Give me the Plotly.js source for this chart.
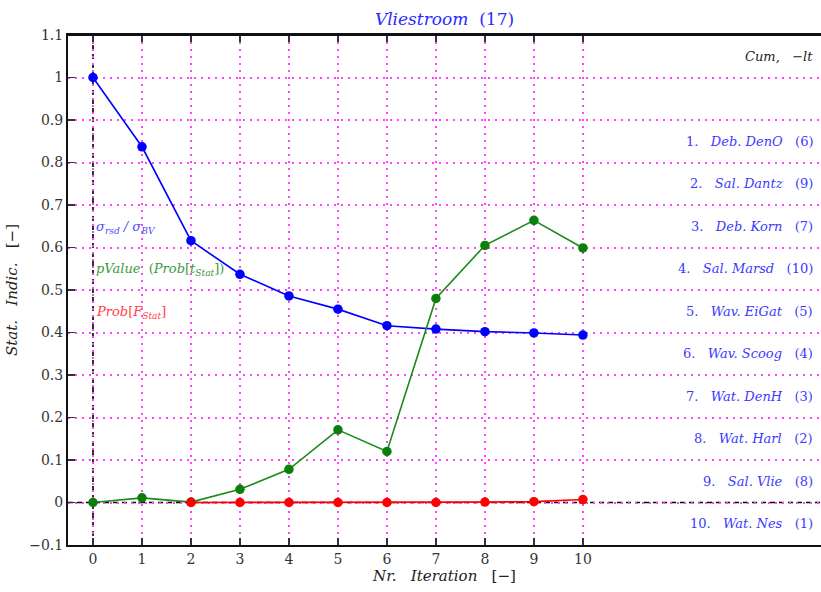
<!DOCTYPE html>
<html>
<head>
<meta charset="utf-8">
<script src="https://cdn.plot.ly/plotly-3.0.1.min.js"></script>
<style>html,body{margin:0;padding:0;background:#fff;overflow:hidden}</style>
</head>
<body>
<div id="chart" style="width:821px;height:592px"></div>
<script>
// Data
const iterations = [0, 1, 2, 3, 4, 5, 6, 7, 8, 9, 10];
const sigmaRatio = [1.0, 0.837, 0.616, 0.537, 0.486, 0.455, 0.416, 0.408, 0.402, 0.399, 0.394];
const pValue = [0.0, 0.011, 0.001, 0.031, 0.078, 0.171, 0.120, 0.480, 0.605, 0.664, 0.599];
const probFIter = [2, 3, 4, 5, 6, 7, 8, 9, 10];
const probF = [0.0, 0.0, 0.0, 0.0, 0.0, 0.0, 0.001, 0.002, 0.007];
const yTickVals = [-0.1, 0, 0.1, 0.2, 0.3, 0.4, 0.5, 0.6, 0.7, 0.8, 0.9, 1.0, 1.1];
const yTickText = ['\u22120.1', '0', '0.1', '0.2', '0.3', '0.4', '0.5', '0.6', '0.7', '0.8', '0.9', '1', '1.1'];
const stationNames = ['Deb. DenO', 'Sal. Dantz', 'Deb. Korn', 'Sal. Marsd', 'Wav. EiGat', 'Wav. Scoog', 'Wat. DenH', 'Wat. Harl', 'Sal. Vlie', 'Wat. Nes'];
const stationCounts = [6, 9, 7, 10, 5, 4, 3, 2, 8, 1];
const stationY = [0.85, 0.75, 0.65, 0.55, 0.45, 0.35, 0.25, 0.15, 0.05, -0.05];

const serif = '"DejaVu Serif", "Liberation Serif", serif';

const traces = [
  {x: iterations, y: sigmaRatio, mode: 'lines+markers', line: {color: '#0000ff', width: 1.6},
   marker: {color: '#0000ff', size: 9.5}, showlegend: false, cliponaxis: false},
  {x: iterations, y: pValue, mode: 'lines+markers', line: {color: '#1a8a1a', width: 1.6},
   marker: {color: '#0a800a', size: 9.5}, showlegend: false, cliponaxis: false},
  {x: probFIter, y: probF, mode: 'lines+markers', line: {color: '#ff0000', width: 1.6},
   marker: {color: '#ff0000', size: 9.5}, showlegend: false, cliponaxis: false}
];

const annotations = [
  {xref: 'x', yref: 'y', x: 0.03, y: 0.648, xanchor: 'left', yanchor: 'middle', showarrow: false,
   text: '<i>σ<sub>rsd</sub> / σ<sub>BV</sub></i>', font: {family: serif, size: 13, color: '#4a4aff'}},
  {xref: 'x', yref: 'y', x: 0.03, y: 0.548, xanchor: 'left', yanchor: 'middle', showarrow: false,
   text: '<i>pValue</i>  (<i>Prob</i>[<i>t<sub>Stat</sub></i>])', font: {family: serif, size: 13, color: '#3a9a3a'}},
  {xref: 'x', yref: 'y', x: 0.03, y: 0.448, xanchor: 'left', yanchor: 'middle', showarrow: false,
   text: '<i>Prob</i>[<i>F<sub>Stat</sub></i>]', font: {family: serif, size: 13, color: '#ff4040'}},
  {xref: 'paper', yref: 'y', x: 0.992, y: 1.05, xanchor: 'right', yanchor: 'middle', showarrow: false,
   text: '<i>Cum,</i>   <i>−lt</i>', font: {family: serif, size: 13, color: '#222222'}}
];
for (let i = 0; i < stationNames.length; i++) {
  annotations.push({xref: 'paper', yref: 'y', x: 0.992, y: stationY[i], xanchor: 'right', yanchor: 'middle',
    showarrow: false, text: (i + 1) + '.   <i>' + stationNames[i] + '</i>   (' + stationCounts[i] + ')',
    font: {family: serif, size: 13, color: '#3a3aff'}});
}

const layout = {
  width: 821, height: 592,
  margin: {l: 68, r: 0, t: 35, b: 47},
  paper_bgcolor: '#ffffff', plot_bgcolor: '#ffffff',
  title: {text: '<i>Vliestroom</i>  (17)', font: {family: serif, size: 17, color: '#2a2aff'},
          x: 0.5, xref: 'paper', xanchor: 'center', y: 0.968, yanchor: 'middle'},
  xaxis: {range: [-0.51, 14.86], tickvals: iterations, ticktext: iterations.map(String),
          ticks: 'inside', ticklen: 7, tickwidth: 1.2, tickcolor: '#333',
          showline: true, linecolor: '#111', linewidth: 2, mirror: 'ticks',
          showgrid: true, gridcolor: '#ff44ff', griddash: '2px,5px', gridwidth: 2,
          zeroline: false, tickfont: {family: serif, size: 14, color: '#333'},
          title: {text: '<i>Nr.</i>   <i>Iteration</i>   [−]', font: {family: serif, size: 15, color: '#222'}, standoff: 2}},
  yaxis: {range: [-0.1, 1.1], tickvals: yTickVals, ticktext: yTickText,
          ticks: 'inside', ticklen: 7, tickwidth: 1.2, tickcolor: '#333',
          showline: true, linecolor: '#111', linewidth: 2, mirror: false,
          showgrid: true, gridcolor: '#ff44ff', griddash: '2px,5px', gridwidth: 2,
          zeroline: false, tickfont: {family: serif, size: 14, color: '#333'},
          title: {text: '<i>Stat.</i>   <i>Indic.</i>   [−]', font: {family: serif, size: 15, color: '#222'}, standoff: 8}},
  shapes: [
    {type: 'line', xref: 'x', yref: 'paper', x0: 0, x1: 0, y0: 0, y1: 1, layer: 'between',
     line: {color: '#000', width: 1.6, dash: '5px,4px'}},
    {type: 'line', xref: 'paper', yref: 'y', x0: 0, x1: 1, y0: 0, y1: 0, layer: 'between',
     line: {color: '#000', width: 1.6, dash: '5px,4px'}},
    {type: 'line', xref: 'paper', yref: 'paper', x0: 0, x1: 1, y0: 1, y1: 1, layer: 'above',
     line: {color: '#111', width: 2}}
  ],
  annotations: annotations
};

Plotly.newPlot('chart', traces, layout, {displayModeBar: false, staticPlot: true});
</script>
</body>
</html>
